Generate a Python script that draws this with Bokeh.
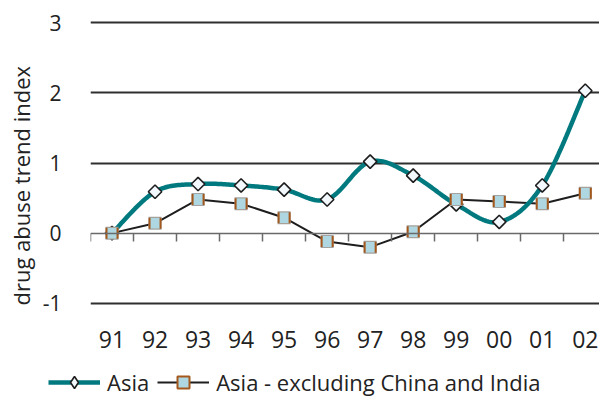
import numpy as np
from bokeh.plotting import figure
from bokeh.layouts import column, row
from bokeh.models import (Range1d, FixedTicker, LinearAxis, Legend, LegendItem,
                          ColumnDataSource, Title)
from bokeh.embed import file_html
from bokeh.resources import INLINE

# Drug abuse trend index, 1991-2002
years = ["91", "92", "93", "94", "95", "96", "97", "98", "99", "00", "01", "02"]
asia = [0.0, 0.59, 0.70, 0.68, 0.62, 0.48, 1.02, 0.82, 0.41, 0.16, 0.68, 2.03]
asia_excl = [0.0, 0.14, 0.48, 0.42, 0.22, -0.12, -0.20, 0.02, 0.48, 0.45, 0.42, 0.57]
y_ticks = [-1, 0, 1, 2, 3]
series_names = ["Asia", "Asia - excluding China and India"]

FONT = "Open Sans"
TEXT = "#222222"
TEAL = "#00797f"
DARK = "#1e1e1e"
SQ_FACE, SQ_SIDE, SQ_EDGE = "#aed7e2", "#a5581c", "#a3a3a3"
DIA_FACE = "#f2f8fc"

x = np.arange(1, len(years) + 1, dtype=float)


def smooth(xs, ys, steps=24):
    """Catmull-Rom smoothing through every point (Bezier form, tension 1/6)."""
    pts = np.column_stack([xs, ys])
    n = len(pts)
    out = [pts[0]]
    for i in range(n - 1):
        p0 = pts[i - 1] if i > 0 else pts[i]
        p1, p2 = pts[i], pts[i + 1]
        p3 = pts[i + 2] if i + 2 < n else pts[i + 1]
        c1 = p1 + (p2 - p0) / 6.0
        c2 = p2 - (p3 - p1) / 6.0
        t = np.linspace(0, 1, steps + 1)[1:, None]
        seg = ((1 - t) ** 3) * p1 + 3 * ((1 - t) ** 2) * t * c1 + 3 * (1 - t) * t ** 2 * c2 + t ** 3 * p2
        out.extend(seg)
    out = np.array(out)
    return out[:, 0], out[:, 1]


sx, sy = smooth(x, np.array(asia))

p = figure(
    frame_width=512, frame_height=289,
    x_range=Range1d(0.5, 12.4), y_range=Range1d(-1.06, 3.06),
    output_backend="svg", toolbar_location=None,
    min_border_left=87, min_border_right=0, min_border_top=18, min_border_bottom=60,
    x_axis_type=None,
)
p.outline_line_color = None
p.background_fill_color = "white"
p.border_fill_color = "white"

# y axis: labels only, horizontal grid lines
p.yaxis.ticker = FixedTicker(ticks=y_ticks)
p.yaxis.major_label_overrides = {t: str(t) for t in y_ticks}
p.yaxis.axis_line_color = None
p.yaxis.major_tick_line_color = None
p.yaxis.minor_tick_line_color = None
p.yaxis.major_label_text_font = FONT
p.yaxis.major_label_text_font_size = "21px"
p.yaxis.major_label_text_color = TEXT
p.yaxis.major_label_standoff = 23

p.add_layout(Title(text="drug abuse trend index", align="left", offset=2,
                   text_font=FONT, text_font_size="22px", text_font_style="normal",
                   text_color=TEXT, standoff=7), "left")

p.ygrid.ticker = FixedTicker(ticks=[-1, 1, 2, 3])
p.ygrid.grid_line_color = "#2f2f2f"
p.ygrid.grid_line_width = 2.2
p.xgrid.visible = False

# category labels under the frame
label_axis = LinearAxis(
    ticker=FixedTicker(ticks=list(x)),
    major_label_overrides={int(i): y for i, y in zip(x, years)},
    axis_line_color=None, major_tick_line_color=None, minor_tick_line_color=None,
    major_label_text_font=FONT, major_label_text_font_size="23px",
    major_label_text_color=TEXT, major_label_standoff=17,
)
p.add_layout(label_axis, "below")

# zero line with category separator ticks pointing down
zero_axis = LinearAxis(
    fixed_location=0,
    ticker=FixedTicker(ticks=[b + 0.5 for b in range(0, 13)]),
    axis_line_color="#6a6a6a", axis_line_width=1.5,
    major_tick_line_color="#6a6a6a", major_tick_line_width=1.5,
    major_tick_in=8, major_tick_out=0, minor_tick_line_color=None,
    major_label_text_font_size="0px", major_label_standoff=0,
)
p.add_layout(zero_axis, "above")

# Asia - excluding China and India
src_ex = ColumnDataSource(dict(x=x, y=asia_excl))
p.line("x", "y", source=src_ex, line_color=DARK, line_width=2)

# Asia (smoothed)
p.line(sx, sy, line_color=TEAL, line_width=4.5)

src_as = ColumnDataSource(dict(x=x, y=asia))
p.scatter("x", "y", source=src_as, marker="square", angle=np.pi / 4, size=9.5,
          fill_color=DIA_FACE, line_color=DARK, line_width=1.6)

# square markers: grey top/bottom edge, brown sides, light blue face
p.rect("x", "y", source=src_ex, width=13, height=13, width_units="screen", height_units="screen",
       fill_color=SQ_EDGE, line_color=None)
p.rect("x", "y", source=src_ex, width=13, height=11, width_units="screen", height_units="screen",
       fill_color=SQ_SIDE, line_color=None)
p.rect("x", "y", source=src_ex, width=9, height=11, width_units="screen", height_units="screen",
       fill_color=SQ_FACE, line_color=None)

# legend strip under the chart, with its own full-width frame
lg = figure(width=599, height=30, x_range=Range1d(0, 1), y_range=Range1d(0, 1),
            output_backend="svg", toolbar_location=None,
            min_border=0, x_axis_type=None, y_axis_type=None)
lg.outline_line_color = None
lg.xgrid.visible = False
lg.ygrid.visible = False
# key glyphs only: the single point lies outside the visible range
key = ColumnDataSource(dict(x=[-5], y=[-5]))
l1 = lg.line("x", "y", source=key, line_color=TEAL, line_width=4.5)
m1 = lg.scatter("x", "y", source=key, marker="diamond", size=9,
                fill_color=DIA_FACE, line_color=DARK, line_width=1.6)
l2 = lg.line("x", "y", source=key, line_color=DARK, line_width=2)
m2 = lg.scatter("x", "y", source=key, marker="square", size=10,
                fill_color=SQ_FACE, line_color=SQ_SIDE, line_width=2)

legend = Legend(
    items=[
        LegendItem(label=series_names[0], renderers=[l1, m1]),
        LegendItem(label=series_names[1], renderers=[l2, m2]),
    ],
    orientation="horizontal", location=(48, 0),
    glyph_width=52, glyph_height=30, label_standoff=7, spacing=8,
    padding=0, margin=0, border_line_color=None, background_fill_alpha=0,
    label_text_font=FONT, label_text_font_size="22px", label_text_color=TEXT,
)
lg.add_layout(legend, "center")

page = column(p, row(lg, spacing=0), spacing=0)
open("out.html", "w").write(file_html(page, INLINE))
